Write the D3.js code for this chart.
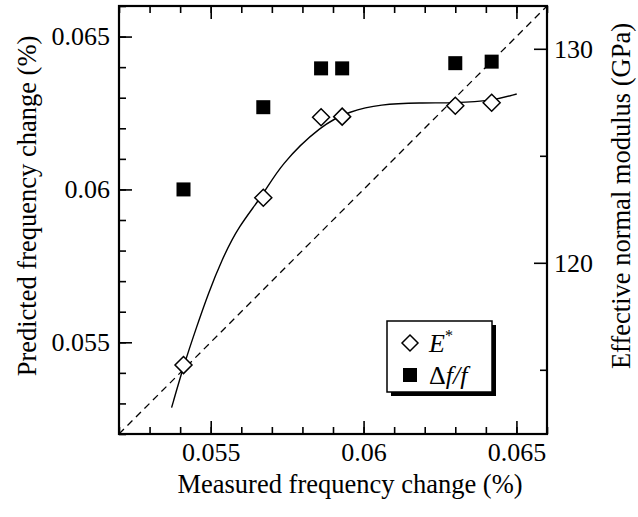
<!DOCTYPE html>
<html lang="en">
<head>
    <meta charset="UTF-8">
    <title>frequency change</title>
    <script src="https://d3js.org/d3.v7.min.js"></script>
    <style>
        body { margin: 0; background: #fff; }
        svg text { font-family: "Liberation Serif", "DejaVu Serif", serif; fill: #000; }
    </style>
</head>
<body>
    <div class="canvas"></div>
    <script>
      // measured frequency change (%), shared x for both series
      const measured = [0.05411, 0.05672, 0.05861, 0.05930, 0.06300, 0.06419];
      // predicted frequency change (%) -> left axis, squares
      const predicted = [0.06000, 0.06269, 0.06396, 0.06396, 0.06413, 0.06418];
      // effective normal modulus (GPa) -> right axis, diamonds
      const modulus = [115.22, 123.04, 126.80, 126.83, 127.34, 127.48];
      // fitted curve through the modulus points
      const fitX = [0.05372, 0.05412, 0.05454, 0.05492, 0.05536, 0.05590, 0.05672, 0.05727,
                    0.05861, 0.05956, 0.06054, 0.06185, 0.06300, 0.06419, 0.06501];
      const fitY = [113.23, 115.22, 117.01, 118.57, 120.13, 121.69, 123.17, 124.57,
                    126.44, 127.09, 127.41, 127.48, 127.47, 127.56, 127.89];

      const xTicks = [0.055, 0.06, 0.065];
      const yTicks = [0.055, 0.06, 0.065];
      const rTicks = [120, 130];
      const rMinor = [115, 125];
      const minorTicks = d3.range(52, 67).map(d => d / 1000);

      const width = 638;
      const height = 517;
      const [ml, mr, mt, mb] = [119, 547, 6, 434];

      const svg = d3.select('.canvas')
                      .append('svg')
                      .attr('width', width)
                      .attr('height', height);

      const x = d3.scaleLinear().domain([0.052, 0.066]).range([ml, mr]);
      const y = d3.scaleLinear().domain([0.052, 0.066]).range([mb, mt]);
      const yR = d3.scaleLinear().domain([112, 132]).range([mb, mt]);

      const fmt = d => String(+d.toFixed(3));

      // ticks (all pointing inward)
      function addAxis(axis, tx, ty) {
        const g = svg.append('g')
                      .attr('transform', `translate(${tx}, ${ty})`)
                      .style('font-size', '26px')
                      .call(axis);
        g.select('.domain').remove();
        g.selectAll('line').attr('stroke', '#000').attr('stroke-width', 1.6);
        g.selectAll('text').attr('fill', '#000').style('font-family', '"Liberation Serif", serif');
        return g;
      }

      addAxis(d3.axisBottom(x).tickValues(minorTicks).tickSizeInner(-7).tickSizeOuter(0).tickFormat(''), 0, mb);
      addAxis(d3.axisBottom(x).tickValues(xTicks).tickSizeInner(-13).tickSizeOuter(0).tickPadding(9).tickFormat(fmt), 0, mb);
      addAxis(d3.axisTop(x).tickValues(minorTicks).tickSizeInner(-7).tickSizeOuter(0).tickFormat(''), 0, mt);
      addAxis(d3.axisTop(x).tickValues(xTicks).tickSizeInner(-13).tickSizeOuter(0).tickFormat(''), 0, mt);
      addAxis(d3.axisLeft(y).tickValues(minorTicks).tickSizeInner(-7).tickSizeOuter(0).tickFormat(''), ml, 0);
      addAxis(d3.axisLeft(y).tickValues(yTicks).tickSizeInner(-13).tickSizeOuter(0).tickPadding(9).tickFormat(fmt), ml, 0);
      addAxis(d3.axisRight(yR).tickValues(rMinor).tickSizeInner(-7).tickSizeOuter(0).tickFormat(''), mr, 0);
      addAxis(d3.axisRight(yR).tickValues(rTicks).tickSizeInner(-13).tickSizeOuter(0).tickPadding(7).tickFormat(d3.format('d')), mr, 0);

      // frame
      svg.append('rect')
          .attr('x', ml).attr('y', mt)
          .attr('width', mr - ml).attr('height', mb - mt)
          .attr('fill', 'none')
          .attr('stroke', '#000')
          .attr('stroke-width', 2.2);

      // y = x reference line
      svg.append('path')
          .attr('fill', 'none')
          .attr('stroke', '#000')
          .attr('stroke-width', 1.3)
          .attr('stroke-dasharray', '7,5')
          .attr('d', d3.line()([[x(0.052), y(0.052)], [x(0.066), y(0.066)]]));

      // fitted curve
      const fit = fitX.map((d, i) => [d, fitY[i]]);
      svg.append('path')
          .attr('fill', 'none')
          .attr('stroke', '#000')
          .attr('stroke-width', 1.4)
          .attr('d', d3.line().x(d => x(d[0])).y(d => yR(d[1])).curve(d3.curveBasis)(fit));

      // squares: predicted frequency change
      const sq = 14;
      svg.selectAll('rect.sq')
          .data(measured)
          .enter()
          .append('rect')
          .attr('class', 'sq')
          .attr('x', (d, i) => x(d) - sq / 2)
          .attr('y', (d, i) => y(predicted[i]) - sq / 2)
          .attr('width', sq).attr('height', sq)
          .attr('fill', '#000');

      // diamonds: effective modulus
      const diamond = r => `M0,${-r}L${r},0L0,${r}L${-r},0Z`;
      svg.selectAll('path.dm')
          .data(measured)
          .enter()
          .append('path')
          .attr('class', 'dm')
          .attr('transform', (d, i) => `translate(${x(d)}, ${yR(modulus[i])})`)
          .attr('d', diamond(8.5))
          .attr('fill', '#fff')
          .attr('stroke', '#000')
          .attr('stroke-width', 1.5);

      // axis titles
      svg.append('text')
          .attr('x', 350).attr('y', 493)
          .attr('text-anchor', 'middle')
          .style('font-size', '26.5px')
          .text('Measured frequency change (%)');

      svg.append('text')
          .attr('transform', `translate(36, 206) rotate(-90)`)
          .attr('text-anchor', 'middle')
          .style('font-size', '26.5px')
          .text('Predicted frequency change (%)');

      svg.append('text')
          .attr('transform', `translate(630, 196) rotate(-90)`)
          .attr('text-anchor', 'middle')
          .style('font-size', '26.5px')
          .text('Effective normal modulus (GPa)');

      // legend
      const lg = svg.append('g').attr('transform', 'translate(387, 321)');
      lg.append('rect').attr('x', 4).attr('y', 4).attr('width', 105).attr('height', 71).attr('fill', '#000');
      lg.append('rect').attr('x', 0).attr('y', 0).attr('width', 105).attr('height', 71)
          .attr('fill', '#fff').attr('stroke', '#000').attr('stroke-width', 1.5);
      lg.append('path').attr('transform', 'translate(23, 22)').attr('d', diamond(8))
          .attr('fill', '#fff').attr('stroke', '#000').attr('stroke-width', 1.5);
      lg.append('rect').attr('x', 16).attr('y', 47).attr('width', 14).attr('height', 14).attr('fill', '#000');
      const t1 = lg.append('text').attr('x', 42).attr('y', 31).style('font-size', '26px');
      t1.append('tspan').style('font-style', 'italic').text('E');
      t1.append('tspan').attr('dy', -11).style('font-size', '16px').text('*');
      const t2 = lg.append('text').attr('x', 42).attr('y', 63).style('font-size', '26px');
      t2.append('tspan').text('\u0394');
      t2.append('tspan').style('font-style', 'italic').text('f/f');
    </script>
</body>
</html>
